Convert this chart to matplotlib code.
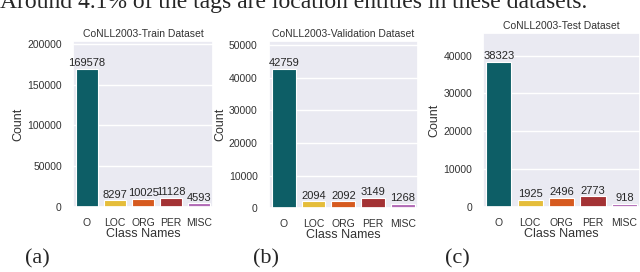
import matplotlib
matplotlib.use("Agg")
import matplotlib.pyplot as plt
import seaborn as sns

categories = ["O", "LOC", "ORG", "PER", "MISC"]
train_counts = [169578, 8297, 10025, 11128, 4593]
val_counts = [42759, 2094, 2092, 3149, 1268]
test_counts = [38323, 1925, 2496, 2773, 918]
titles = ["CoNLL2003-Train Dataset", "CoNLL2003-Validation Dataset", "CoNLL2003-Test Dataset"]
panel_labels = ["(a)", "(b)", "(c)"]
colors = ["#0d5e66", "#e5bd3a", "#d65a1f", "#a33234", "#b26bb6"]
caption = "Around 4.1% of the tags are location entities in these datasets."

sns.set_theme(style="darkgrid")
plt.rcParams['font.family'] = ['Liberation Sans', 'DejaVu Sans']

fig = plt.figure(figsize=(6.4, 2.72), dpi=100)
positions = [
    [0.114, 0.239, 0.219, 0.610],
    [0.420, 0.235, 0.233, 0.614],
    [0.755, 0.239, 0.245, 0.640],
]
label_x = [0.058, 0.416, 0.714]
datasets = [train_counts, val_counts, test_counts]

for pos, data, title, plab, lx in zip(positions, datasets, titles, panel_labels, label_x):
    ax = fig.add_axes(pos)
    xs = list(range(len(categories)))
    bars = ax.bar(xs, data, width=0.8, color=colors, edgecolor="white", linewidth=0.8)
    ax.set_xticks(xs)
    ax.set_xticklabels(categories, fontsize=7.5, color="#333333")
    ax.tick_params(axis="y", labelsize=7.5, pad=2, labelcolor="#333333")
    ax.tick_params(axis="x", pad=2)
    ax.set_xlim(-0.5, len(categories) - 0.5)
    ax.set_ylim(0, max(data) * 1.2)
    ax.set_title(title, fontsize=7.5, pad=3, color="#333333")
    ax.set_xlabel("Class Names", fontsize=9, labelpad=0, color="#333333")
    ax.set_ylabel("Count", fontsize=9, labelpad=2, color="#333333")
    ax.grid(axis="x", visible=False)
    for b, v in zip(bars, data):
        ax.annotate(str(v), (b.get_x() + b.get_width() / 2, b.get_height()),
                    ha="center", va="bottom", fontsize=8, color="#262626",
                    xytext=(0, 0.5), textcoords="offset points")
    fig.text(lx, 0.05, plab, fontsize=16, family=["Liberation Serif"], ha="center", va="center")

fig.text(0.0, 0.971, caption, fontsize=17, family=["Liberation Serif"], ha="left", va="baseline")

fig.savefig("out.png", dpi=100)
